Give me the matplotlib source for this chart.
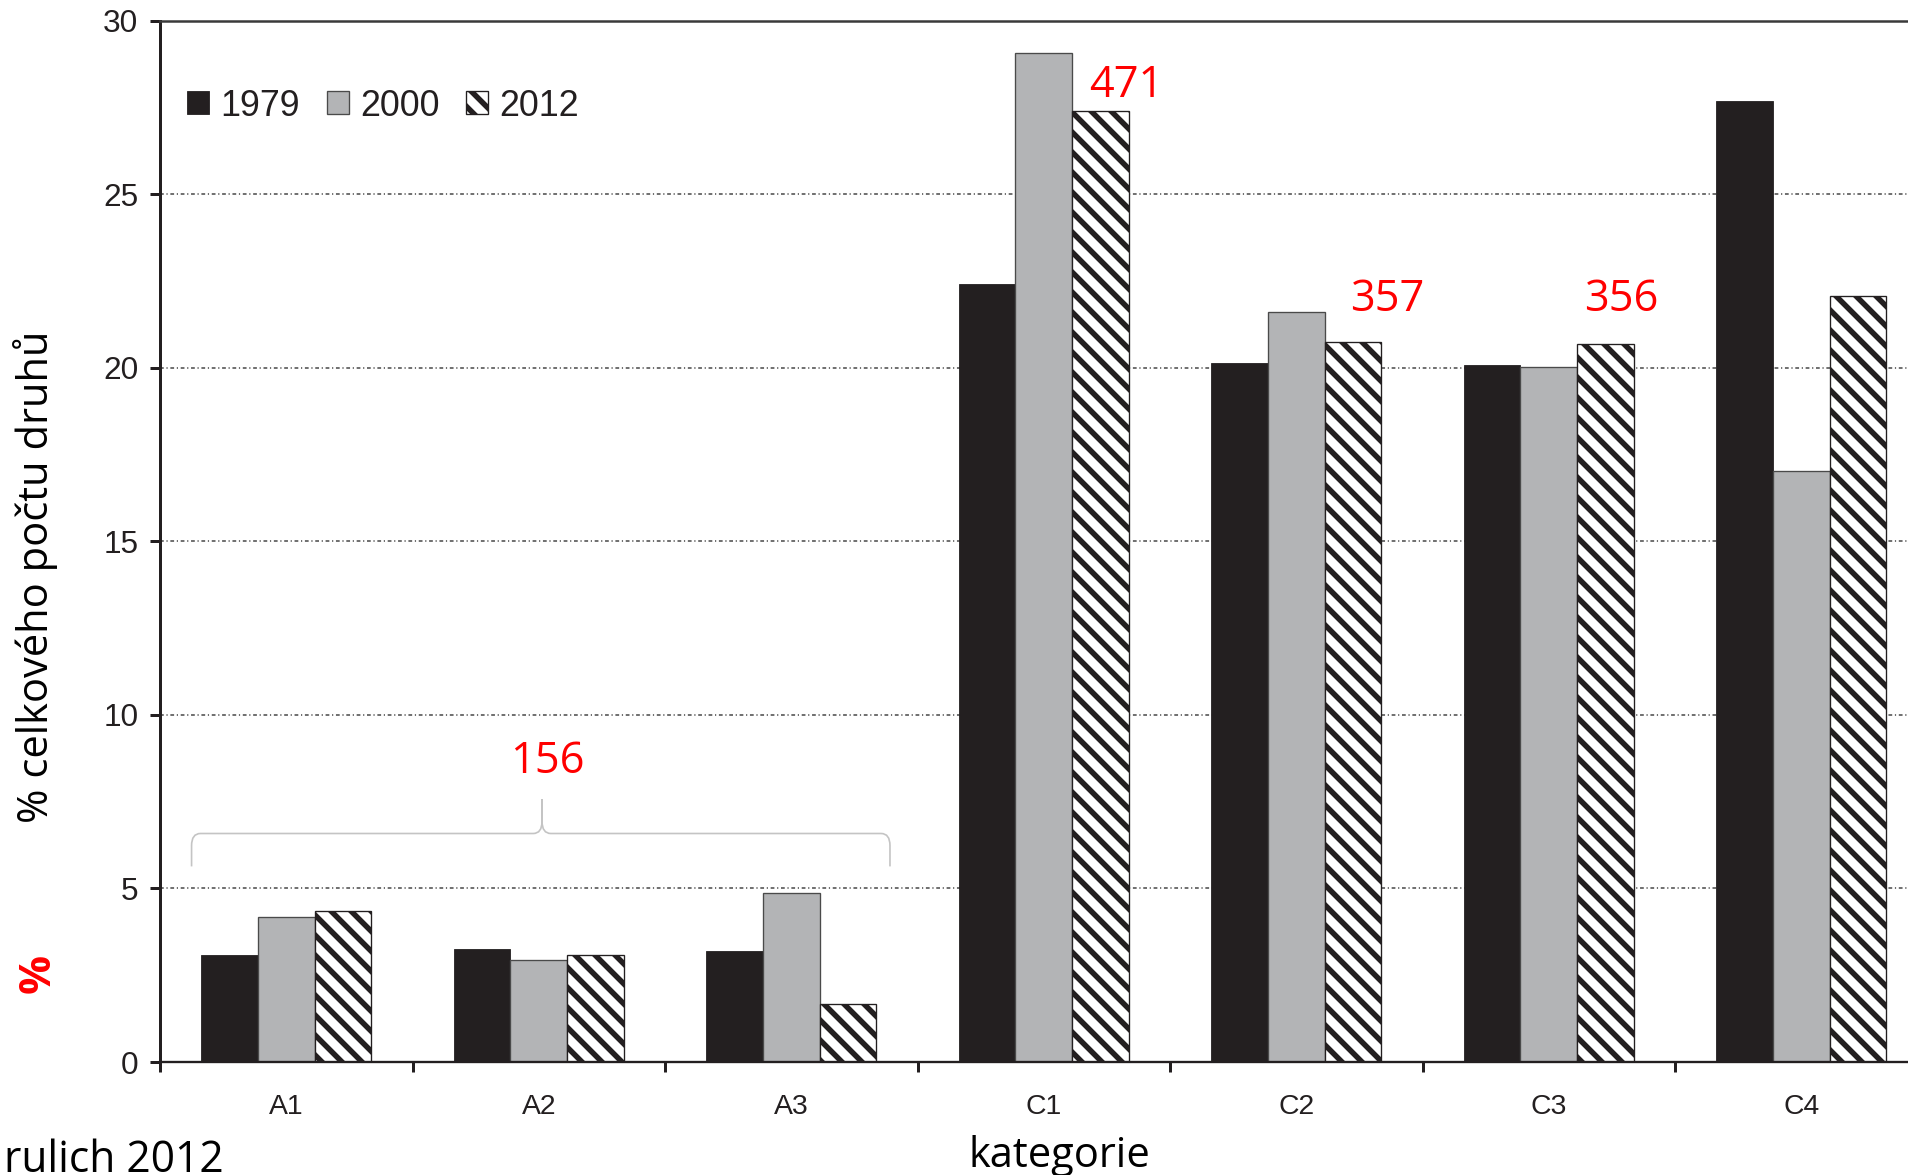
"""
Podíl druhů v kategoriích A1–C4 (1979, 2000, 2012)
"""

import matplotlib
matplotlib.use('Agg')
import matplotlib.pyplot as plt
from matplotlib.patches import Patch, PathPatch
from matplotlib.path import Path
import numpy as np

plt.rcParams['font.family'] = ['Liberation Sans', 'DejaVu Sans']
plt.rcParams['hatch.linewidth'] = 3.3
plt.rcParams['hatch.color'] = '#231f20'

# data
categories = ['A1', 'A2', 'A3', 'C1', 'C2', 'C3', 'C4']
years = ['1979', '2000', '2012']
v1979 = [3.08, 3.26, 3.19, 22.4, 20.15, 20.08, 27.7]
v2000 = [4.17, 2.94, 4.87, 29.06, 21.6, 20.01, 17.03]
v2012 = [4.35, 3.08, 1.68, 27.4, 20.75, 20.68, 22.08]
counts = ['156', '471', '357', '356']

DARK = '#231f20'
GRAY = '#b3b4b6'
HATCH = '\\\\'
CAL = ['Open Sans', 'DejaVu Sans']

fig = plt.figure(figsize=(1908 / 120, 1175 / 120), dpi=120)
ax = fig.add_axes([160 / 1908, 1 - 1062 / 1175, 1 - 160 / 1908, (1062 - 20.7) / 1175])

x = np.arange(len(categories)) + 0.5
w = 0.224
b1 = ax.bar(x - w, v1979, w, color=DARK, edgecolor=DARK, linewidth=0.5, zorder=2)
b2 = ax.bar(x, v2000, w, color=GRAY, edgecolor='#4a4a4a', linewidth=0.8, zorder=2)
b3 = ax.bar(x + w, v2012, w, color='white', edgecolor=DARK, linewidth=0.8,
            hatch=HATCH, zorder=2)

ax.set_xlim(0, (1908 - 160) / 252.5)
ax.set_ylim(0, 30)

# osy
ax.set_yticks(range(0, 31, 5))
ax.tick_params(axis='y', direction='out', length=6, width=1.8, color=DARK,
               labelsize=19, labelcolor=DARK, pad=7)
ax.set_xticks(np.arange(0, 7))
ax.set_xticklabels([])
ax.set_xticks(x, minor=True)
ax.set_xticklabels(categories, minor=True)
ax.tick_params(axis='x', which='major', direction='out', length=6, width=1.8, color=DARK)
ax.tick_params(axis='x', which='minor', length=0, pad=19, labelsize=17, labelcolor=DARK)

ax.spines['left'].set_linewidth(1.8)
ax.spines['left'].set_color(DARK)
ax.spines['bottom'].set_linewidth(1.4)
ax.spines['bottom'].set_color(DARK)
ax.spines['top'].set_linewidth(1.5)
ax.spines['top'].set_color('#3a3a3a')
ax.spines['right'].set_visible(False)

ax.set_axisbelow(True)
ax.yaxis.grid(True, linestyle=(0, (2.5, 1.8, 0.8, 1.8)), color='#444444', linewidth=0.9)

# legenda
handles = [Patch(facecolor=DARK, edgecolor=DARK, linewidth=0.5),
           Patch(facecolor=GRAY, edgecolor='#4a4a4a', linewidth=0.8),
           Patch(facecolor='white', edgecolor=DARK, linewidth=0.8, hatch=HATCH)]
fig.legend(handles, years, loc='center left', bbox_to_anchor=(187 / 1908, 1 - 106 / 1175),
           ncol=3, frameon=False, fontsize=21.5, handlelength=0.615, handleheight=0.615,
           handletextpad=0.31, columnspacing=0.75, borderpad=0, borderaxespad=0,
           labelcolor=DARK)

# počty druhů (červeně)
kw = dict(color='red', fontsize=26, family=CAL, ha='center', va='center')
ax.text(1.532, 8.66, counts[0], **kw)
ax.text(3.826, 28.12, counts[1], **kw)
ax.text(4.862, 21.95, counts[2], **kw)
ax.text(5.788, 21.95, counts[3], **kw)

# složená závorka nad A1–A3
x0, x1, xt = 0.125, 2.891, 1.513
ye, yh, yt = 5.635, 6.583, 7.566
dx, dy = 0.035, 0.35
verts = [(x0, ye), (x0, yh - dy), (x0, yh), (x0 + dx, yh),
         (xt - dx, yh), (xt, yh), (xt, yh + dy), (xt, yt),
         (x1, ye), (x1, yh - dy), (x1, yh), (x1 - dx, yh),
         (xt + dx, yh), (xt, yh), (xt, yh + dy), (xt, yt)]
codes = [Path.MOVETO, Path.LINETO, Path.CURVE3, Path.CURVE3,
         Path.LINETO, Path.CURVE3, Path.CURVE3, Path.LINETO] * 2
ax.add_patch(PathPatch(Path(verts, codes), facecolor='none', edgecolor='#c4c4c4',
                       linewidth=1.0, zorder=3))

# popisky
fig.text(35.6 / 1908, 1 - 576.5 / 1175, '% celkového počtu druhů', rotation=90,
         fontsize=25, family=CAL, ha='center', va='center', color='black')
fig.text(1059 / 1908, 1 - 1156 / 1175, 'kategorie', fontsize=25, family=CAL,
         ha='center', va='center', color='black')
fig.text(38 / 1908, 1 - 973 / 1175, '%', rotation=90, fontsize=26, family=CAL,
         fontweight='bold', color='red', ha='center', va='center')
fig.text(0.002, 3 / 1175, 'rulich 2012', fontsize=25.5, family=CAL, ha='left',
         va='baseline', color='black')

fig.savefig('out.png', dpi=120, facecolor='white')
